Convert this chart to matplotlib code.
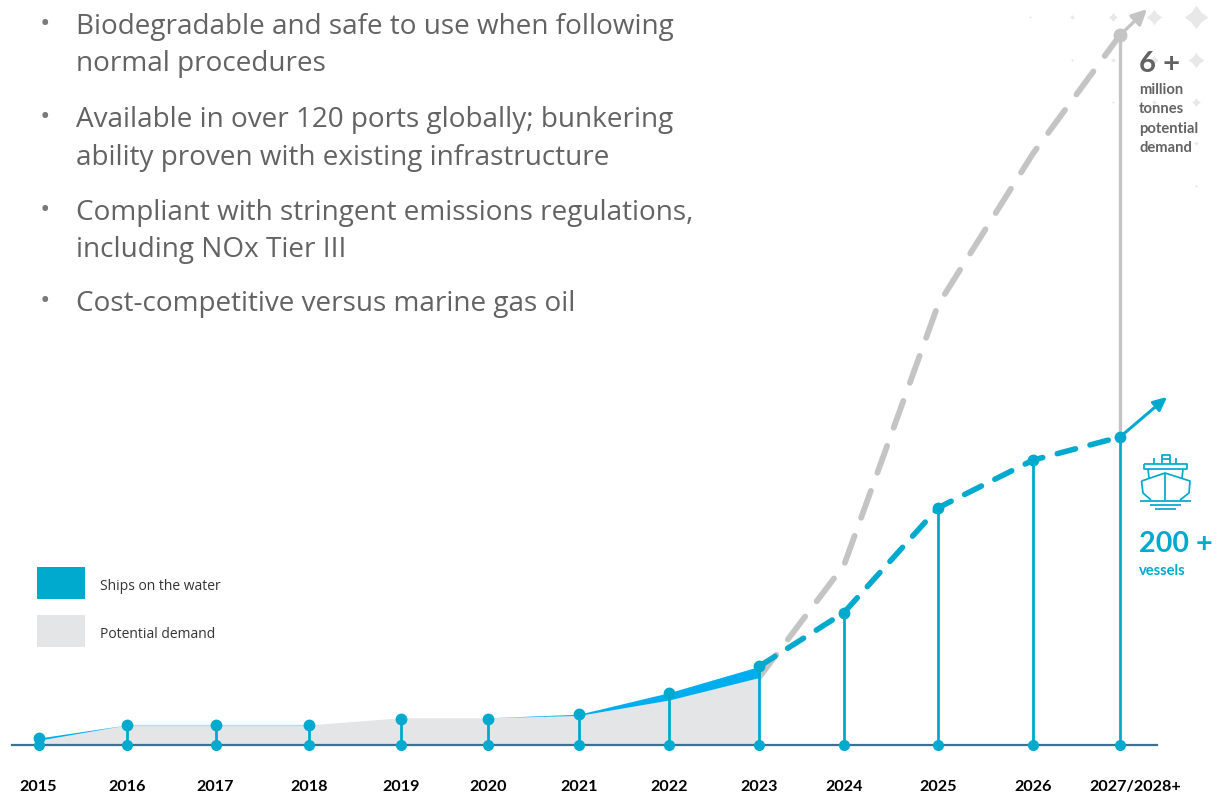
import matplotlib
matplotlib.use('Agg')
import matplotlib.pyplot as plt
import numpy as np
from matplotlib.lines import Line2D
from matplotlib.patches import Rectangle
from matplotlib.transforms import Affine2D

W, H = 1219, 795

# Chart data
years = ['2015', '2016', '2017', '2018', '2019', '2020', '2021', '2022', '2023',
         '2024', '2025', '2026', '2027/2028+']
year_x = [38.5, 127, 215.5, 309, 401, 488, 579, 669, 759, 844, 938, 1033, 1120]
vessels = [4.5, 13, 13, 13, 17, 17, 20, 34, 51, 86, 154, 185, 200]
demand_mt = [0.04, 0.17, 0.17, 0.17, 0.23, 0.23, 0.25, 0.38, 0.57, 1.52, 3.72, 5.0, 6.0]
bullets = [
    ['Biodegradable and safe to use when following', 'normal procedures'],
    ['Available in over 120 ports globally; bunkering', 'ability proven with existing infrastructure'],
    ['Compliant with stringent emissions regulations,', 'including NOx Tier III'],
    ['Cost-competitive versus marine gas oil'],
]

BLUE = '#00A9CE'
BAND = '#00AEEF'
GREY = '#C4C4C4'
AREA = '#E4E5E7'
TEXT = '#636363'
BASE = '#3F6F8F'
LABEL_FONT = 'Lato'

fig = plt.figure(figsize=(W / 100, H / 100), dpi=100)

# pixel coordinates with the origin at top left, for annotations and decoration
px = Affine2D().scale(1 / W, -1 / H).translate(0, 1) + fig.transFigure

BASE_Y = 745
VESSEL_SCALE = 1.54  # px per vessel
MT_SCALE = 118.3  # px per million tonnes

ax = fig.add_axes([0, 0, 1, 1])
ax.set_xlim(0, W)
ax.set_ylim(-(H - BASE_Y) / VESSEL_SCALE, BASE_Y / VESSEL_SCALE)
ax.axis('off')
ax.set_zorder(3)

ax_mt = ax.twinx()
ax_mt.set_ylim(-(H - BASE_Y) / MT_SCALE, BASE_Y / MT_SCALE)
ax_mt.axis('off')
ax_mt.set_zorder(2)

x = np.array(year_x)
v = np.array(vessels)
d = np.array(demand_mt)
d_as_v = d * MT_SCALE / VESSEL_SCALE
hist = 9  # 2015..2023 are actuals

# decorative sparkles behind the top right corner
spark = [(0, 1), (0.42, 0.42), (1, 0), (0.42, -0.42), (0, -1), (-0.42, -0.42), (-1, 0), (-0.42, 0.42), (0, 1)]
dia_cols = [1030, 1072, 1113, 1154, 1196]
dia_rows = [17, 60, 102, 143, 186]
dia_sizes = [2.5, 4, 7.5, 13, 20]
for r, row in enumerate(dia_rows):
    for c in range(r, len(dia_cols)):
        s = dia_sizes[c - r]
        fig.add_artist(Line2D([dia_cols[c]], [row], transform=px, marker=spark, ms=s * 0.85,
                              color='#E8E8E8', mew=0, ls='none', zorder=1))

# potential demand area and vessel band up to 2023
ax.fill_between(x[:hist], 0, d_as_v[:hist], color=AREA, lw=0, zorder=1)
ax.fill_between(x[:hist], d_as_v[:hist], np.maximum(v[:hist], d_as_v[:hist]), color=BAND, lw=0, zorder=2)
ax.plot(x[1:4], d_as_v[1:4], color='#B5DFF0', lw=1, zorder=2)

# baseline
ax.plot([12, 1157], [0, 0], color=BASE, lw=1.6, zorder=3)

# forecasts
ax_mt.plot(x[hist - 1:], d[hist - 1:], color=GREY, lw=4.2, dashes=(4.9, 3.3),
           dash_capstyle='round', zorder=2)
ax.plot(x[hist - 1:], v[hist - 1:], color=BLUE, lw=4, dashes=(3.4, 2.7),
        dash_capstyle='round', zorder=5)

# stems
ax_mt.plot([x[-1], x[-1]], [v[-1] * VESSEL_SCALE / MT_SCALE, d[-1]], color=GREY, lw=2.4, zorder=3)
ax.vlines(x, 0, v, color=BLUE, lw=2.0, zorder=4)
ax.plot(x, np.zeros_like(x), 'o', color=BLUE, ms=8, mew=0, zorder=6)
ax.plot(x, v, 'o', color=BLUE, ms=8.5, mew=0, zorder=6)
ax_mt.plot(x[-1], d[-1], 'o', color=GREY, ms=10, mew=0, zorder=4)

# trend arrows
ax_mt.annotate('', xy=(1147, 6.22), xytext=(x[-1], d[-1]),
               arrowprops=dict(arrowstyle='-|>,head_length=0.9,head_width=0.45', color=GREY, lw=2.4,
                               shrinkA=0, shrinkB=0))
ax.annotate('', xy=(1167, 226), xytext=(x[-1], v[-1]),
            arrowprops=dict(arrowstyle='-|>,head_length=0.8,head_width=0.38', color=BLUE, lw=2.2,
                            shrinkA=0, shrinkB=0))

# year labels
label_x = year_x[:-1] + [1135]
for name, xp in zip(years, label_x):
    fig.text(xp, 787, name, transform=px, ha='center', va='center', family=LABEL_FONT,
             fontweight='bold', fontsize=11.6, color='#000000')

# bullet list
row_y = [27, 120, 213, 304]
for lines, y0 in zip(bullets, row_y):
    fig.text(45, y0 - 2, '\u2022', transform=px, ha='center', va='center', family='Open Sans',
             fontsize=20, color='#7A7A7A')
    for i, line in enumerate(lines):
        fig.text(76, y0 + i * 37.5, line, transform=px, ha='left', va='center', family='Open Sans',
                 fontsize=20.1, color=TEXT)

# legend
for y0, col, name in [(567, BLUE, 'Ships on the water'), (615, AREA, 'Potential demand')]:
    fig.add_artist(Rectangle((37, y0), 48, 32, transform=px, color=col, lw=0))
    fig.text(100, y0 + 20, name, transform=px, ha='left', va='center', family='Open Sans',
             fontsize=10, color='#333333')

# callouts
fig.text(1139, 64, '6 +', transform=px, ha='left', va='center', family=LABEL_FONT, fontweight='bold',
         fontsize=21, color=TEXT)
for i, word in enumerate(['million', 'tonnes', 'potential', 'demand']):
    fig.text(1139, 90 + i * 19.3, word, transform=px, ha='left', va='center', family=LABEL_FONT,
             fontweight='bold', fontsize=10.6, color=TEXT)
fig.text(1139, 544, '200 +', transform=px, ha='left', va='center', family=LABEL_FONT, fontweight='bold',
         fontsize=20.6, color=BLUE)
fig.text(1139, 571, 'vessels', transform=px, ha='left', va='center', family=LABEL_FONT, fontweight='bold',
         fontsize=10.6, color=BLUE)

# ship icon
ship_lines = [
    [(1141.5, 481), (1165, 473), (1190, 481), (1189, 493), (1180, 500)],
    [(1141.5, 481), (1143, 493), (1151, 500)],
    [(1165, 473), (1165, 500)],
    [(1140, 501), (1191, 501)],
    [(1150, 505), (1181, 505)],
    [(1155, 509), (1176, 509)],
    [(1144, 464), (1187, 464), (1187, 469), (1144, 469), (1144, 464)],
    [(1148, 469), (1149, 478)],
    [(1183, 469), (1182, 478)],
    [(1162, 464), (1162, 455), (1170, 455), (1170, 464)],
    [(1162, 459), (1170, 459)],
    [(1154, 458), (1154, 464)],
    [(1176, 458), (1176, 464)],
]
for seg in ship_lines:
    xs, ys = zip(*seg)
    fig.add_artist(Line2D(xs, ys, transform=px, color=BLUE, lw=1.25, solid_capstyle='butt'))

fig.savefig('out.png', dpi=100)
